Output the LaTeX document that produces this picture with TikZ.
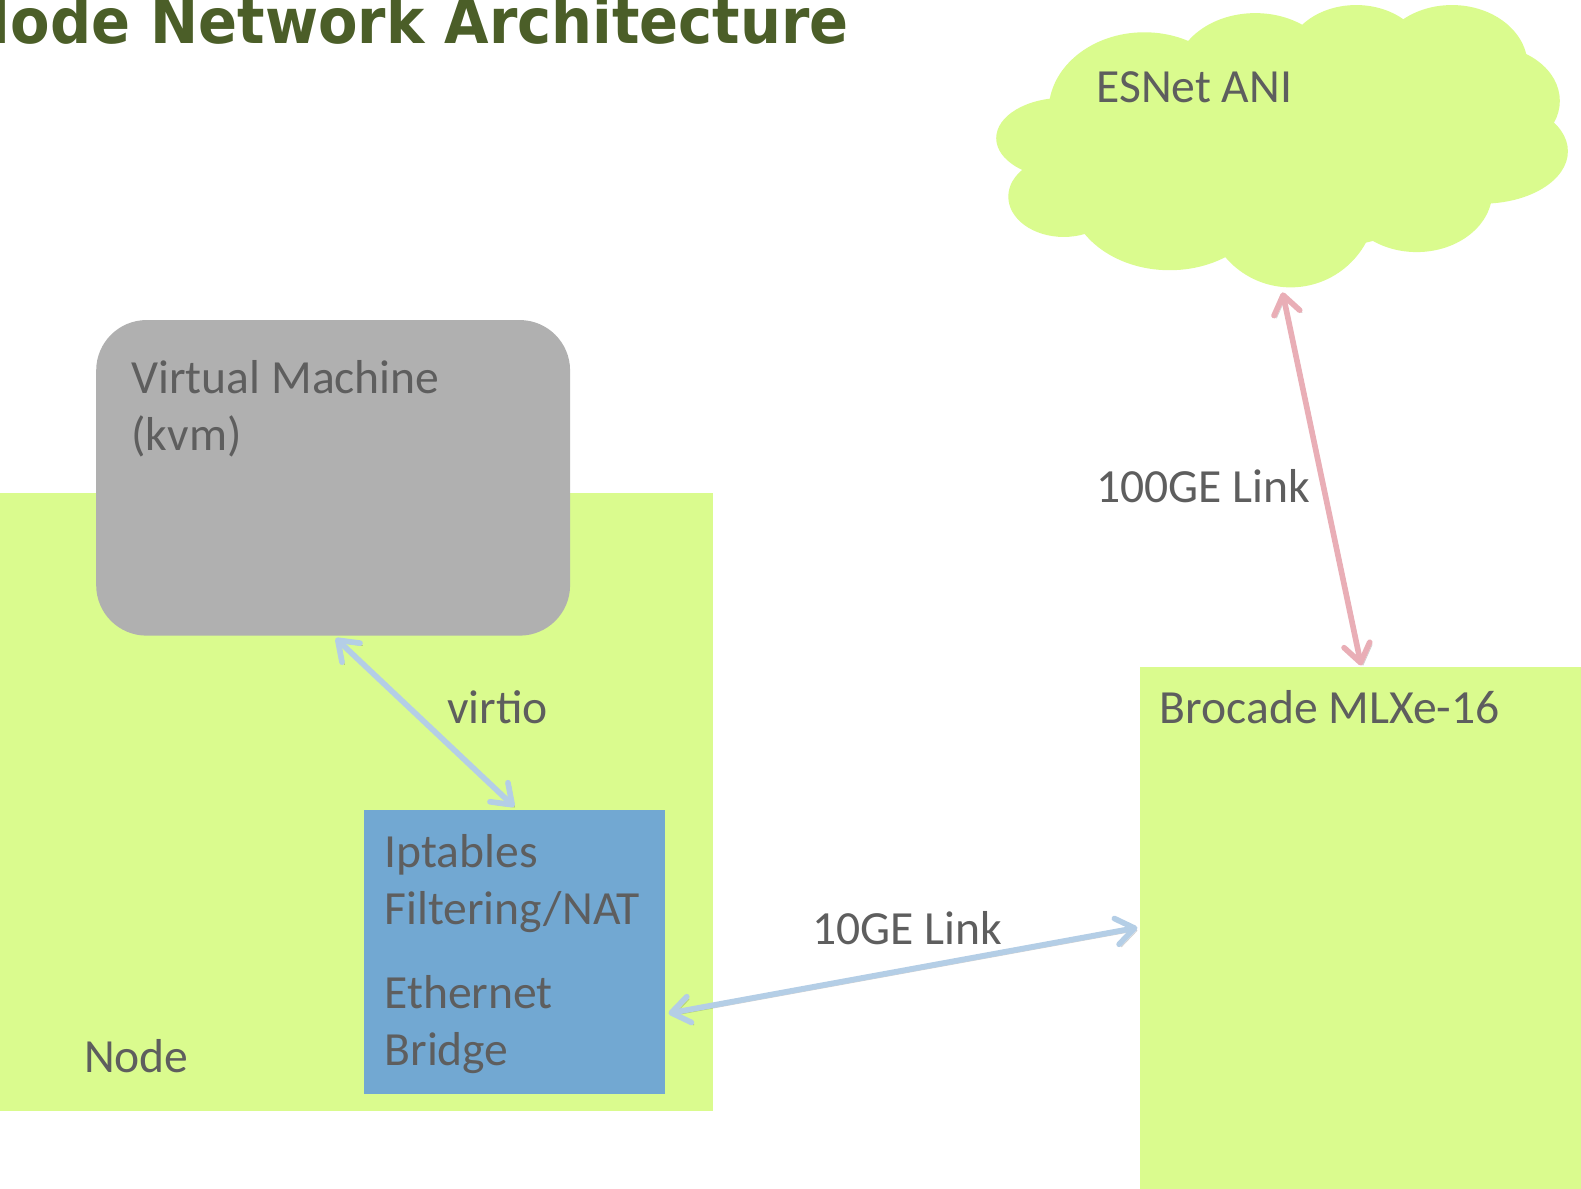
\documentclass[tikz,border=0pt]{standalone}
\usepackage{fontspec}
\setmainfont{Carlito}
\newfontfamily\titlefont{DejaVu Sans}
\usetikzlibrary{arrows.meta}
\definecolor{lime}{RGB}{218,251,142}
\definecolor{vmgray}{RGB}{176,176,176}
\definecolor{bridgeblue}{RGB}{114,168,210}
\definecolor{txtgray}{RGB}{94,94,94}
\definecolor{titlegreen}{RGB}{75,94,40}
\definecolor{linkblue}{RGB}{180,206,230}
\definecolor{linkpink}{RGB}{233,174,182}
\tikzset{
  box/.style={fill=lime, draw=none, inner sep=0pt, anchor=north west},
  lbl/.style={text=txtgray, font=\fontsize{23.6}{28.5}\selectfont, inner sep=0pt, anchor=base west},
  link/.style={line width=2.8pt, line cap=round,
    {Straight Barb[length=9pt,width=13pt,line cap=round,line join=round]}-{Straight Barb[length=9pt,width=13pt,line cap=round,line join=round]},
    preaction={draw=black, opacity=0.18, transform canvas={shift={(1.2pt,-1.2pt)}}}},
}
\begin{document}
\begin{tikzpicture}[x=0.5pt,y=-0.5pt]
\useasboundingbox (0,0) rectangle (1568,1179);
% title
\node[text=titlegreen, font=\titlefont\bfseries\fontsize{31}{33}\selectfont, inner sep=0pt, anchor=base east] (title) at (842,43) {\scalebox{0.92}[1]{Node Network Architecture}};
% cloud
\begin{scope}[fill=lime]
\fill (1135,110) ellipse [x radius=95, y radius=78];
\fill (1245,75) ellipse [x radius=80, y radius=62];
\fill (1345,60) ellipse [x radius=70, y radius=55];
\fill (1440,65) ellipse [x radius=75, y radius=60];
\fill (1475,100) ellipse [x radius=72, y radius=55];
\fill (1470,150) ellipse [x radius=85, y radius=52];
\fill (1405,190) ellipse [x radius=75, y radius=60];
\fill (1280,200) ellipse [x radius=85, y radius=85];
\fill (1160,190) ellipse [x radius=100, y radius=78];
\fill (1055,195) ellipse [x radius=55, y radius=40];
\fill (1055,137) ellipse [x radius=67, y radius=40];
\fill (1270,150) ellipse [x radius=200, y radius=100];
\end{scope}
\coordinate (cloudport) at (1272,290);
\node[lbl] (esnet) at (1087,102) {ESNet ANI};
% node box
\node[box, minimum width=353.5pt, minimum height=306pt] (node) at (0,489) {};
\node[lbl] (nodelbl) at (83,1064) {Node};
% VM
\node[box, fill=vmgray, rounded corners=25pt, minimum width=235pt, minimum height=156.5pt] (vm) at (95,317) {};
\node[lbl] (vmlbl1) at (130,390) {Virtual Machine};
\node[lbl] (vmlbl2) at (130,447) {(kvm)};
% bridge
\node[box, fill=bridgeblue, minimum width=149pt, minimum height=141pt] (bridge) at (361,803) {};
\node[lbl] (ipt1) at (381,860) {Iptables};
\node[lbl] (ipt2) at (381,917) {Filtering/NAT};
\node[lbl] (eth1) at (381,1000) {Ethernet};
\node[lbl] (eth2) at (381,1057) {Bridge};
% brocade
\node[box, minimum width=230pt, minimum height=270pt] (brocade) at (1130,661) {};
\node[lbl] (brolbl) at (1150,718) {Brocade MLXe-16};
% connector end points
\coordinate (vmport) at (333,633);
\coordinate (brtop) at (510,800);
\coordinate (brright) at (663,1005);
\coordinate (brocleft) at (1128,920);
\coordinate (broctop) at (1350,660);
% links
\draw[link, draw=linkblue] (vmport) -- (brtop);
\draw[link, draw=linkblue] (brright) -- (brocleft);
\draw[link, draw=linkpink] (cloudport) -- (broctop);
% link labels
\node[lbl] (virtio) at (443,718) {virtio};
\node[lbl] (l10) at (805,937) {10GE Link};
\node[lbl] (l100) at (1087,498) {100GE Link};
\end{tikzpicture}
\end{document}
